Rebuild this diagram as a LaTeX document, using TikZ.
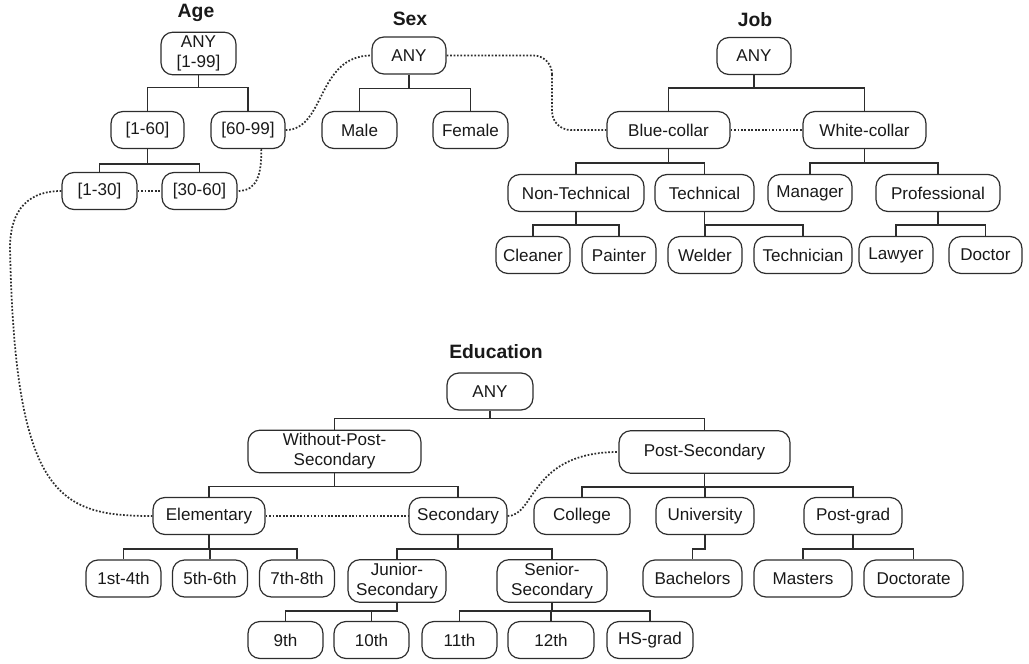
\documentclass[tikz,border=0pt]{standalone}
\usepackage{fontspec}
\setmainfont{Liberation Sans}
\definecolor{traitgris}{RGB}{45,45,45}
\definecolor{textenoir}{RGB}{25,25,25}
% branches of a tree: parent, then list of children
\newcommand{\enfants}[3][13]{\foreach \c in {#3} \draw[arbre] (#2.south) -- ++(0,#1) -| (\c.north);}

\begin{document}
\begin{tikzpicture}[x=0.75pt, y=-0.75pt,
    every node/.style={font=\fontsize{12.8}{15}\selectfont, text=textenoir},
    cat/.style={draw=traitgris, line width=0.9pt, rounded corners=9pt, inner sep=2pt, align=center, minimum height=27.75pt, minimum width=#1*0.75pt},
    cat/.default=75,
    tall/.style={minimum height=32pt},
    titre/.style={font=\fontsize{14.5}{17}\selectfont\bfseries},
    arbre/.style={draw=traitgris, line width=1pt},
    lien/.style={draw=traitgris, line width=1.3pt, dash pattern=on 1.3pt off 1.3pt}]
    \useasboundingbox (0,0) rectangle (1029,664);

    % Age
    \node[titre] (tage) at (196,13) {Age};
    \node[cat,tall] (aany) at (198.5,53.5) {ANY\\{[1-99]}};
    \node[cat=73] (a160) at (147.5,130) {[1-60]};
    \node[cat=74] (a6099) at (248,130) {[60-99]};
    \node[cat] (a130) at (99.5,191) {[1-30]};
    \node[cat] (a3060) at (199.5,191) {[30-60]};

    % Sex
    \node[titre] (tsex) at (410,19) {Sex};
    \node[cat=74] (sany) at (409,55.5) {ANY};
    \node[cat] (smale) at (359.5,130) {Male};
    \node[cat] (sfemale) at (470.5,130) {Female};

    % Job
    \node[titre] (tjob) at (755,20) {Job};
    \node[cat=74] (jany) at (754,56) {ANY};
    \node[cat=123] (jblue) at (668.5,130) {Blue-collar};
    \node[cat=123] (jwhite) at (864.5,130) {White-collar};
    \node[cat=136] (jnontech) at (576,193) {Non-Technical};
    \node[cat=99] (jtech) at (704.5,193) {Technical};
    \node[cat=84] (jmanager) at (810,193) {Manager};
    \node[cat=124] (jprof) at (938,193) {Professional};
    \node[cat=74] (jcleaner) at (533,255) {Cleaner};
    \node[cat=74] (jpainter) at (619,255) {Painter};
    \node[cat=74] (jwelder) at (705,255) {Welder};
    \node[cat=98] (jtechnician) at (803,255) {Technician};
    \node[cat=74] (jlawyer) at (896,255) {Lawyer};
    \node[cat=73] (jdoctor) at (985.5,255) {Doctor};

    % Education
    \node[titre] (tedu) at (496,352) {Education};
    \node[cat=86] (eany) at (490,391.5) {ANY};
    \node[cat=173,tall] (ewps) at (334.5,451.5) {Without-Post-\\Secondary};
    \node[cat=171,tall] (epost) at (704.5,452) {Post-Secondary};
    \node[cat=112] (eelem) at (209,516) {Elementary};
    \node[cat=98] (esec) at (458,516) {Secondary};
    \node[cat=96] (ecollege) at (582,516) {College};
    \node[cat=98] (euniv) at (705,516) {University};
    \node[cat=98] (epostgrad) at (853,516) {Post-grad};
    \node[cat] (e14) at (123.5,578.5) {1st-4th};
    \node[cat] (e56) at (210,578.5) {5th-6th};
    \node[cat] (e78) at (297,578.5) {7th-8th};
    \node[cat=98,tall] (ejunior) at (397,581) {Junior-\\Secondary};
    \node[cat=110,tall] (esenior) at (552,581) {Senior-\\Secondary};
    \node[cat=99] (ebach) at (692.5,578.5) {Bachelors};
    \node[cat=98] (emasters) at (803,578.5) {Masters};
    \node[cat=99] (edoct) at (913.5,578.5) {Doctorate};
    \node[cat] (e9) at (285.5,640) {9th};
    \node[cat] (e10) at (371.5,640) {10th};
    \node[cat] (e11) at (459.5,640) {11th};
    \node[cat=86] (e12) at (551,640) {12th};
    \node[cat=86] (ehs) at (650,640) {HS-grad};

    % Branches
    \enfants[12]{aany}{a160,a6099}
    \enfants[15]{a160}{a130,a3060}
    \enfants[14]{sany}{smale,sfemale}
    \enfants{jany}{jblue,jwhite}
    \enfants[14]{jblue}{jnontech,jtech}
    \enfants[14]{jwhite}{jmanager,jprof}
    \enfants{jnontech}{jcleaner,jpainter}
    \enfants{jtech}{jwelder,jtechnician}
    \enfants{jprof}{jlawyer,jdoctor}
    \enfants[8]{eany}{ewps,epost}
    \enfants{ewps}{eelem,esec}
    \enfants{epost}{ecollege,euniv,epostgrad}
    \enfants[14]{eelem}{e14,e56,e78}
    \enfants[14]{esec}{ejunior,esenior}
    \enfants[14]{euniv}{ebach}
    \enfants[14]{epostgrad}{emasters,edoct}
    \enfants[8]{ejunior}{e9,e10}
    \enfants[8]{esenior}{e11,e12,ehs}

    % Liens en pointilles
    \coordinate (coude) at (10,248);
    \coordinate (coudejob) at (552,92);
    \draw[lien] (a130.east) -- (a3060.west);
    \draw[lien] (a6099.-55) .. controls +(0,25) and +(20,0) .. (a3060.east);
    \draw[lien] (a6099.east) .. controls +(40,0) and +(-55,0) .. (sany.west);
    \draw[lien, rounded corners=14pt] (sany.east) -| (coudejob) |- (jblue.west);
    \draw[lien] (jblue.east) -- (jwhite.west);
    \draw[lien] (a130.west) .. controls +(-40,0) and +(0,-30) .. (coude)
        .. controls +(5,250) and +(-93,0) .. (eelem.west);
    \draw[lien] (eelem.east) -- (esec.west);
    \draw[lien] (esec.east) .. controls +(28,0) and +(-89,0) .. (epost.west);
\end{tikzpicture}
\end{document}
